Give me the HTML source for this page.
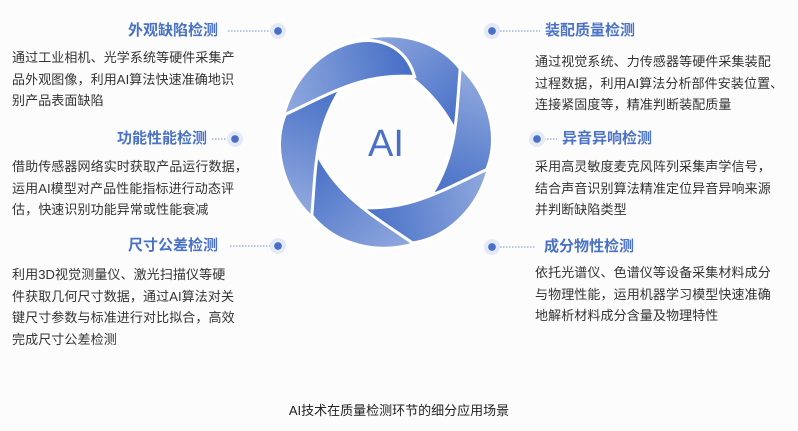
<!DOCTYPE html>
<html><head><meta charset="utf-8"><style>
body{margin:0;width:798px;height:431px;background:#fcfcfd;position:relative;overflow:hidden;font-family:"Liberation Sans","Noto Sans CJK SC",sans-serif}
.t{position:absolute;color:#4a72c6;font-weight:bold;font-size:15px;line-height:18px;white-space:nowrap}
.p{position:absolute;color:#333;font-size:13px;line-height:21.5px;white-space:nowrap;letter-spacing:0.1px}
.cap{position:absolute;left:0;width:798px;text-align:center;top:400px;font-size:13px;color:#222}
</style></head><body>
<svg width="798" height="431" style="position:absolute;left:0;top:0">
<defs>
<linearGradient id="g" x1="0" y1="0" x2="1" y2="1">
<stop offset="0" stop-color="#93abdf"/><stop offset="1" stop-color="#3f69c4"/></linearGradient>
<radialGradient id="dg"><stop offset="0.45" stop-color="#4a6fc6"/><stop offset="0.5" stop-color="#e3e9f6"/><stop offset="1" stop-color="#e3e9f6"/></radialGradient>
</defs>
<g transform="translate(386,142)">
<g id="pt"><path d="M-28,-102 C50,-124 116,-55 71,-8 C48,-55 15,-72 -28,-102 Z" fill="url(#g)" stroke="#fff" stroke-width="3"/></g>
<use href="#pt" transform="rotate(60)"/>
<use href="#pt" transform="rotate(120)"/>
<use href="#pt" transform="rotate(180)"/>
<use href="#pt" transform="rotate(240)"/>
<use href="#pt" transform="rotate(300)"/>
<text x="0" y="14" text-anchor="middle" font-family="Liberation Sans" font-size="38" fill="#4a70c6">AI</text>
</g>
<g stroke="#6f8fd4" stroke-width="1" stroke-dasharray="1.5,1.5">
<line x1="228" y1="31" x2="270" y2="31"/>
<line x1="212" y1="139" x2="228" y2="139"/>
<line x1="230" y1="246" x2="270" y2="246"/>
<line x1="500" y1="31" x2="540" y2="31"/>
<line x1="544" y1="139" x2="557" y2="139"/>
<line x1="500" y1="247" x2="535" y2="247"/>
</g>
<g fill="url(#dg)">
<circle cx="278" cy="31" r="8"/><circle cx="235" cy="139" r="8"/><circle cx="278" cy="246" r="8"/>
<circle cx="492" cy="31" r="8"/><circle cx="537" cy="139" r="8"/><circle cx="492" cy="247" r="8"/>
</g>
</svg>
<div class="t" style="right:580px;top:22px">外观缺陷检测</div>
<div class="p" style="left:12px;top:47px">通过工业相机、光学系统等硬件采集产<br>品外观图像，利用AI算法快速准确地识<br>别产品表面缺陷</div>
<div class="t" style="right:591px;top:130px">功能性能检测</div>
<div class="p" style="left:12px;top:156px">借助传感器网络实时获取产品运行数据，<br>运用AI模型对产品性能指标进行动态评<br>估，快速识别功能异常或性能衰减</div>
<div class="t" style="right:580px;top:237px">尺寸公差检测</div>
<div class="p" style="left:12px;top:264px">利用3D视觉测量仪、激光扫描仪等硬<br>件获取几何尺寸数据，通过AI算法对关<br>键尺寸参数与标准进行对比拟合，高效<br>完成尺寸公差检测</div>
<div class="t" style="left:545px;top:22px">装配质量检测</div>
<div class="p" style="left:535px;top:51px">通过视觉系统、力传感器等硬件采集装配<br>过程数据，利用AI算法分析部件安装位置、<br>连接紧固度等，精准判断装配质量</div>
<div class="t" style="left:562px;top:130px">异音异响检测</div>
<div class="p" style="left:535px;top:156px">采用高灵敏度麦克风阵列采集声学信号，<br>结合声音识别算法精准定位异音异响来源<br>并判断缺陷类型</div>
<div class="t" style="left:544px;top:238px">成分物性检测</div>
<div class="p" style="left:535px;top:262px">依托光谱仪、色谱仪等设备采集材料成分<br>与物理性能，运用机器学习模型快速准确<br>地解析材料成分含量及物理特性</div>
<div class="cap">AI技术在质量检测环节的细分应用场景</div>
</body></html>
